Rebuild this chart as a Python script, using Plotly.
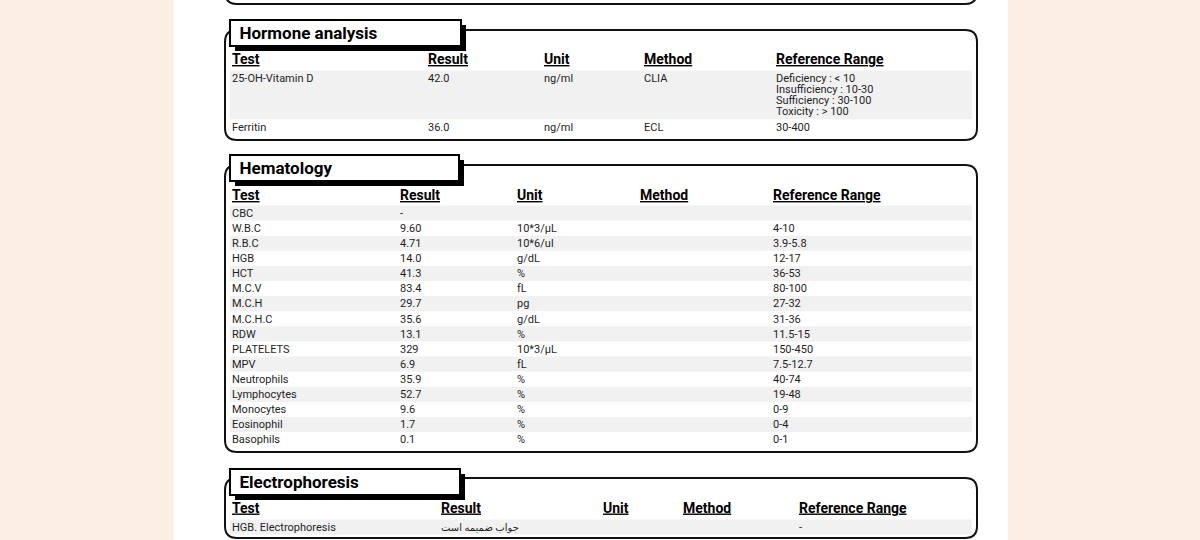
import plotly.graph_objects as go

# ---------------- data ----------------
headers = ["Test", "Result", "Unit", "Method", "Reference Range"]

hormone_title = "Hormone analysis"
hormone_tests = ["25-OH-Vitamin D", "Ferritin"]
hormone_results = ["42.0", "36.0"]
hormone_units = ["ng/ml", "ng/ml"]
hormone_methods = ["CLIA", "ECL"]
hormone_ranges = ["Deficiency : < 10\nInsufficiency : 10-30\nSufficiency : 30-100\nToxicity : > 100",
                  "30-400"]

hema_title = "Hematology"
hema_tests = ["CBC", "W.B.C", "R.B.C", "HGB", "HCT", "M.C.V", "M.C.H", "M.C.H.C", "RDW",
              "PLATELETS", "MPV", "Neutrophils", "Lymphocytes", "Monocytes", "Eosinophil", "Basophils"]
hema_results = ["-", "9.60", "4.71", "14.0", "41.3", "83.4", "29.7", "35.6", "13.1",
                "329", "6.9", "35.9", "52.7", "9.6", "1.7", "0.1"]
hema_units = ["", "10*3/µL", "10*6/ul", "g/dL", "%", "fL", "pg", "g/dL", "%",
              "10*3/µL", "fL", "%", "%", "%", "%", "%"]
hema_methods = [""] * 16
hema_ranges = ["", "4-10", "3.9-5.8", "12-17", "36-53", "80-100", "27-32", "31-36", "11.5-15",
               "150-450", "7.5-12.7", "40-74", "19-48", "0-9", "0-4", "0-1"]

electro_title = "Electrophoresis"
electro_tests = ["HGB. Electrophoresis"]
electro_results = ["جواب ضمیمه است"]
electro_units = [""]
electro_methods = [""]
electro_ranges = ["-"]

# ---------------- layout / styling ----------------
W, H = 1200, 540
PEACH = "#FBEEE3"
GRAY = "#F1F1F1"
INK = "#1f1f1f"
FONT = "Roboto, DejaVu Sans, sans-serif"
ROW_H = 15.1
LINE_H = 11.2
TXT_DY = 1.0

sections = [
    dict(title=hormone_title, cols=[hormone_tests, hormone_results, hormone_units, hormone_methods, hormone_ranges],
         title_top=20, box_top=30, box_bottom=140, header_y=59.5, rows_top=70.5,
         col_x=[232, 428, 544, 644, 776], title_right=461),
    dict(title=hema_title, cols=[hema_tests, hema_results, hema_units, hema_methods, hema_ranges],
         title_top=155, box_top=165, box_bottom=452, header_y=195.5, rows_top=205.5,
         col_x=[232, 400, 517, 640, 773], title_right=459),
    dict(title=electro_title, cols=[electro_tests, electro_results, electro_units, electro_methods, electro_ranges],
         title_top=469, box_top=478, box_bottom=538, header_y=508, rows_top=519.5,
         col_x=[232, 441, 603, 683, 799], title_right=460),
]

BOX_L, BOX_R, RAD = 225, 977, 12
BAND_L, BAND_R = 230, 972


def rrect(x0, y0, x1, y1, r):
    return (f"M{x0 + r},{y0} L{x1 - r},{y0} Q{x1},{y0} {x1},{y0 + r} "
            f"L{x1},{y1 - r} Q{x1},{y1} {x1 - r},{y1} L{x0 + r},{y1} "
            f"Q{x0},{y1} {x0},{y1 - r} L{x0},{y0 + r} Q{x0},{y0} {x0 + r},{y0} Z")


fig = go.Figure()
shapes = []

# white page
shapes.append(dict(type="rect", x0=174, x1=1008, y0=-5, y1=H + 5, fillcolor="white",
                   line=dict(width=0), layer="below"))
# bottom of previous section's box (cut off at the top)
shapes.append(dict(type="path",
                   path=f"M{BOX_L},-30 L{BOX_L},{4 - RAD} Q{BOX_L},4 {BOX_L + RAD},4 "
                        f"L{BOX_R - RAD},4 Q{BOX_R},4 {BOX_R},{4 - RAD} L{BOX_R},-30",
                   line=dict(color="#111", width=2), layer="below"))

for sec in sections:
    cols = sec["cols"]
    n = len(cols[0])
    # row geometry from number of text lines in each row
    row_lines = [max(len(str(c[i]).split("\n")) for c in cols) for i in range(n)]
    tops = []
    y = sec["rows_top"]
    for i in range(n):
        tops.append(y)
        y += ROW_H + (row_lines[i] - 1) * LINE_H

    # outer rounded box
    shapes.append(dict(type="path", path=rrect(BOX_L, sec["box_top"], BOX_R, sec["box_bottom"], RAD),
                       line=dict(color="#111", width=2), fillcolor="rgba(0,0,0,0)", layer="below"))
    # row bands
    for i in range(n):
        if i % 2 == 0:
            h = ROW_H + (row_lines[i] - 1) * LINE_H
            shapes.append(dict(type="rect", x0=BAND_L, x1=BAND_R, y0=tops[i], y1=tops[i] + h,
                               fillcolor=GRAY, line=dict(width=0), layer="below"))
    # title box with shadow
    t0, tr = sec["title_top"], sec["title_right"]
    shapes.append(dict(type="rect", x0=235, x1=tr + 5, y0=t0 + 5, y1=t0 + 31,
                       fillcolor="#000", line=dict(width=0), layer="below"))
    shapes.append(dict(type="rect", x0=230, x1=tr, y0=t0, y1=t0 + 26,
                       fillcolor="white", line=dict(color="#000", width=2), layer="below"))

    # title text
    fig.add_trace(go.Scatter(x=[239.5], y=[t0 + 13.5 + TXT_DY], text=[sec["title"]], mode="text",
                             textposition="middle right",
                             textfont=dict(family=FONT, size=17, color="#000", weight="bold"),
                             hoverinfo="skip", showlegend=False))
    # headers
    fig.add_trace(go.Scatter(x=sec["col_x"], y=[sec["header_y"] + TXT_DY] * len(headers),
                             text=[f"<u>{h}</u>" for h in headers], mode="text",
                             textposition="middle right",
                             textfont=dict(family=FONT, size=14, color="#000", weight="bold"),
                             hoverinfo="skip", showlegend=False))
    # cells
    for ci, col in enumerate(cols):
        xs, ys, ts, sz = [], [], [], []
        for i, val in enumerate(col):
            for li, line in enumerate(str(val).split("\n")):
                if line == "":
                    continue
                xs.append(sec["col_x"][ci])
                ys.append(tops[i] + ROW_H / 2 + li * LINE_H + TXT_DY)
                ts.append(line)
                # Arabic-script text renders wider in the fallback font
                sz.append(10 if any("\u0600" <= ch <= "\u06ff" for ch in line) else 11)
        fig.add_trace(go.Scatter(x=xs, y=ys, text=ts, mode="text", textposition="middle right",
                                 textfont=dict(family=FONT, size=sz, color=INK),
                                 hoverinfo="skip", showlegend=False))

fig.update_layout(
    width=W, height=H, margin=dict(l=0, r=0, t=0, b=0),
    paper_bgcolor=PEACH, plot_bgcolor=PEACH, shapes=shapes,
    xaxis=dict(range=[0, W], visible=False, fixedrange=True),
    yaxis=dict(range=[H, 0], visible=False, fixedrange=True),
)
fig.write_html("out.html", config={"displayModeBar": False},
               post_script="document.body.style.margin='0';document.body.style.overflow='hidden';")
